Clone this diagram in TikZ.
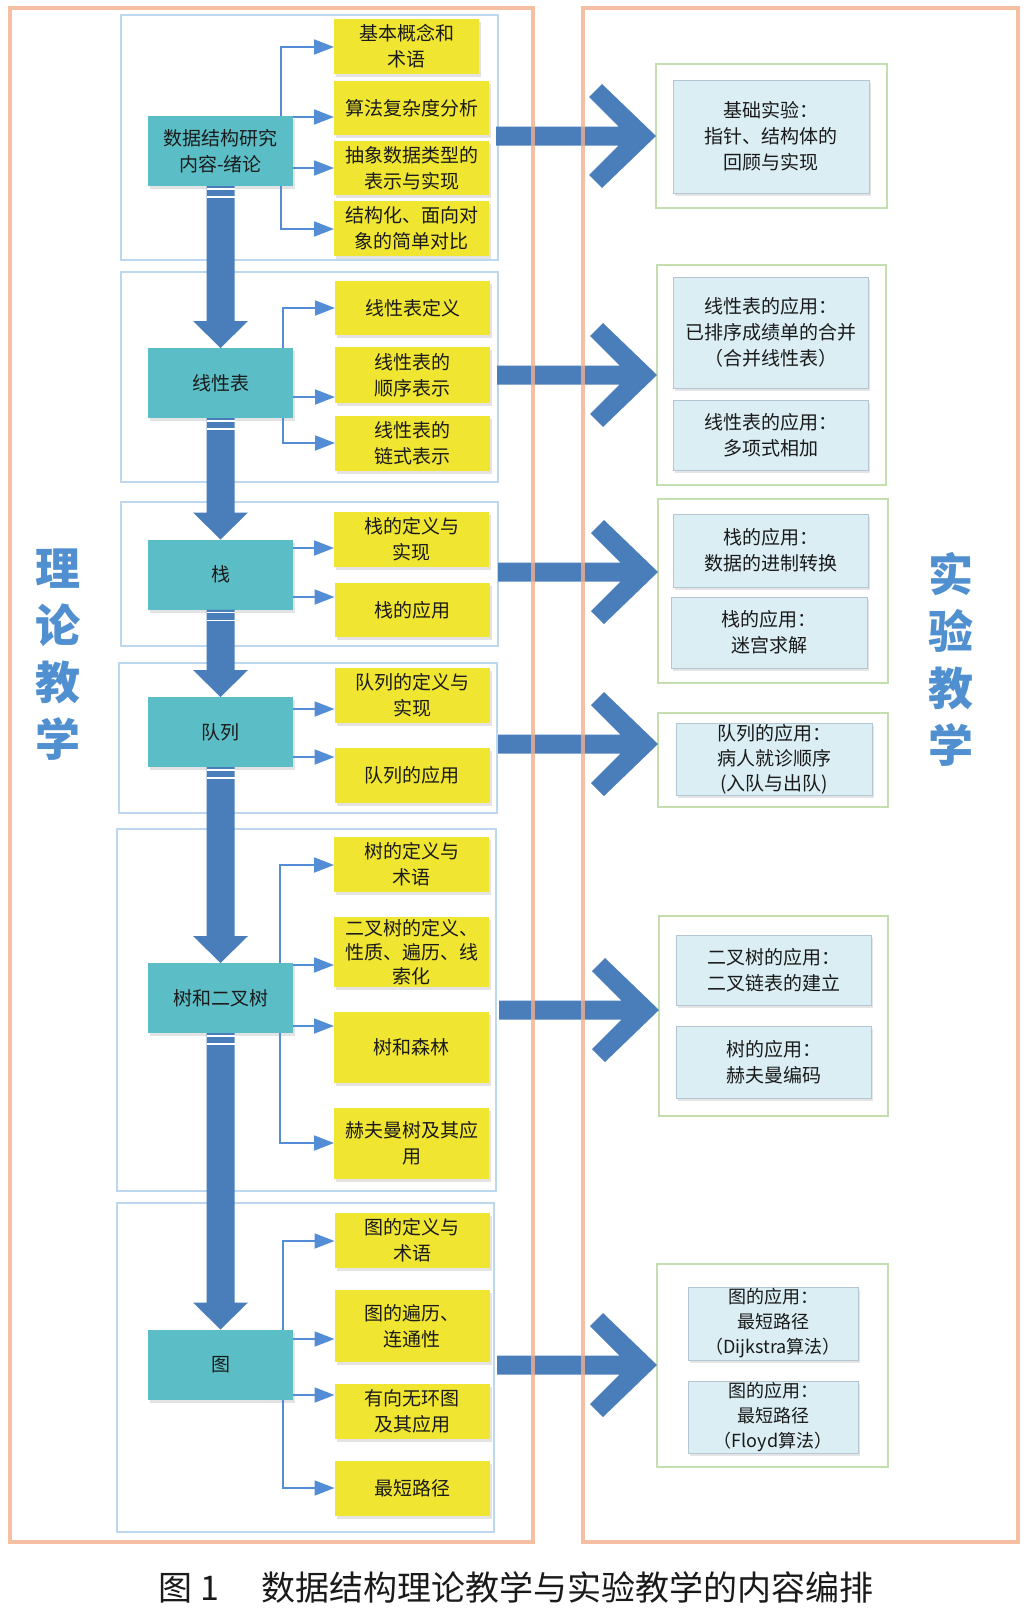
\documentclass[tikz,border=0pt]{standalone}
\usepackage{fontspec}
\setmainfont{Noto Sans CJK SC}
\usetikzlibrary{arrows.meta,shadows,calc}
\definecolor{cOrg}{HTML}{F4AE8C}
\definecolor{cSec}{HTML}{BDD7EE}
\definecolor{cTeal}{HTML}{5BBEC6}
\definecolor{cYel}{HTML}{F0E632}
\definecolor{cArr}{HTML}{4A7EBB}
\definecolor{cBr}{HTML}{538DD5}
\definecolor{cGrn}{HTML}{C4DEB0}
\definecolor{cLb}{HTML}{DAEEF3}
\definecolor{cLbd}{HTML}{B4C6D4}
\definecolor{cSide}{HTML}{5090D0}
\definecolor{cTxt}{HTML}{1A1A1A}
\newcommand{\dnarrow}[2]{%
  \fill[cArr] ($(#1.south)+(-14,0)$) -- ($(#2.north)+(-14,-27)$) -- ($(#2.north)+(-27.5,-27)$) -- (#2.north) -- ($(#2.north)+(27.5,-27)$) -- ($(#2.north)+(14,-27)$) -- ($(#1.south)+(14,0)$) -- cycle;
  \draw[white, line width=1.2pt] ($(#1.south)+(-14,3)$) -- ++(28,0) ($(#1.south)+(-14,11)$) -- ++(28,0);}
\begin{document}
\begin{tikzpicture}[x=1pt,y=-1pt,
  every node/.style={inner sep=0pt, outer sep=0pt},
  txt/.style={font=\fontsize{19pt}{26pt}\selectfont, align=center, text=cTxt},
  sec/.style={draw=cSec, line width=2pt, rectangle},
  topic/.style={txt, rectangle, fill=cTeal, minimum width=145pt, minimum height=70pt,
    drop shadow={shadow xshift=2pt, shadow yshift=-3pt, opacity=0.22, fill=gray}},
  sub/.style={txt, rectangle, fill=cYel, minimum width=155pt,
    drop shadow={shadow xshift=2pt, shadow yshift=-3pt, opacity=0.22, fill=gray}},
  grp/.style={draw=cGrn, line width=2.2pt, rectangle},
  app/.style={txt, rectangle, fill=cLb, draw=cLbd, line width=1pt,
    drop shadow={shadow xshift=1.5pt, shadow yshift=-2.5pt, opacity=0.2, fill=gray}},
  br/.style={draw=cBr, line width=1.8pt, -{Triangle[length=20pt,width=15pt]}},
  side/.style={font=\bfseries\fontsize{45pt}{57pt}\selectfont, align=center, text=cSide},
  fatarrow/.pic={\fill[cArr] (-160,-9.5) -- (-37.5,-9.5) -- (-67,-39) -- (-54,-52) -- (0,0) -- (-54,52) -- (-67,39) -- (-37.5,9.5) -- (-160,9.5) -- cycle;}
]
\useasboundingbox (0,0) rectangle (1034,1609);
\fill[white] (0,0) rectangle (1034,1609);

% section frames
\node[sec, minimum width=377pt, minimum height=245pt] (S1) at (309.5,137.5) {};
\node[sec, minimum width=377pt, minimum height=210pt] (S2) at (309.5,377) {};
\node[sec, minimum width=377pt, minimum height=144pt] (S3) at (309.5,574) {};
\node[sec, minimum width=378pt, minimum height=150pt] (S4) at (308,738) {};
\node[sec, minimum width=379pt, minimum height=362pt] (S5) at (306.5,1010) {};
\node[sec, minimum width=377pt, minimum height=329pt] (S6) at (305.5,1367.5) {};

% topic boxes
\node[topic] (T1) at (220.5,151) {数据结构研究\\内容-绪论};
\node[topic] (T2) at (220.5,383) {线性表};
\node[topic] (T3) at (220.5,574.5) {栈};
\node[topic] (T4) at (220.5,732) {队列};
\node[topic] (T5) at (220.5,998) {树和二叉树};
\node[topic] (T6) at (220.5,1364.5) {图};

% sub-topic boxes
\node[sub, minimum width=145pt, minimum height=55pt] (Y1a) at (406.5,46.5) {基本概念和\\术语};
\node[sub, minimum height=54pt] (Y1b) at (411.5,108) {算法复杂度分析};
\node[sub, minimum height=54pt] (Y1c) at (411.5,168) {抽象数据类型的\\表示与实现};
\node[sub, minimum height=55pt] (Y1d) at (411.5,228.5) {结构化、面向对\\象的简单对比};
\node[sub, minimum height=54pt] (Y2a) at (412.5,308) {线性表定义};
\node[sub, minimum height=56pt] (Y2b) at (412.5,375) {线性表的\\顺序表示};
\node[sub, minimum height=55pt] (Y2c) at (412.5,443.5) {线性表的\\链式表示};
\node[sub, minimum height=55pt] (Y3a) at (411.5,539.5) {栈的定义与\\实现};
\node[sub, minimum height=54pt] (Y3b) at (412,610) {栈的应用};
\node[sub, minimum height=55pt] (Y4a) at (412,695.5) {队列的定义与\\实现};
\node[sub, minimum height=55pt] (Y4b) at (412,775.5) {队列的应用};
\node[sub, minimum height=55pt] (Y5a) at (411.5,864.5) {树的定义与\\术语};
\node[sub, minimum height=70pt, font=\fontsize{19pt}{24pt}\selectfont] (Y5b) at (411.5,952) {二叉树的定义、\\性质、遍历、线\\索化};
\node[sub, minimum height=71pt] (Y5c) at (411.5,1047.5) {树和森林};
\node[sub, minimum height=71pt] (Y5d) at (411.5,1143.5) {赫夫曼树及其应\\用};
\node[sub, minimum height=55pt] (Y6a) at (412,1240.5) {图的定义与\\术语};
\node[sub, minimum height=72pt] (Y6b) at (412,1326) {图的遍历、\\连通性};
\node[sub, minimum height=55pt] (Y6c) at (412,1411.5) {有向无环图\\及其应用};
\node[sub, minimum height=55pt] (Y6d) at (412,1488.5) {最短路径};

% branch x positions
\coordinate (b1) at (281,0);
\coordinate (b2) at (283,0);
\coordinate (b5) at (280,0);
\coordinate (b6) at (283,0);

% branch connectors
\draw[br] (T1.north -| b1) |- (Y1a.west |- 0,47);
\draw[br] (T1.east |- 0,117) -- (Y1b.west |- 0,117);
\draw[br] (T1.east |- 0,168) -- (Y1c.west |- 0,168);
\draw[br] (T1.south -| b1) |- (Y1d.west |- 0,229);
\draw[br] (T2.north -| b2) |- (Y2a.west |- 0,308);
\draw[br] (T2.east |- 0,397) -- (Y2b.west |- 0,397);
\draw[br] (T2.south -| b2) |- (Y2c.west |- 0,443);
\draw[br] (T3.east |- 0,548) -- (Y3a.west |- 0,548);
\draw[br] (T3.east |- 0,597) -- (Y3b.west |- 0,597);
\draw[br] (T4.east |- 0,709) -- (Y4a.west |- 0,709);
\draw[br] (T4.east |- 0,757) -- (Y4b.west |- 0,757);
\draw[br] (T5.north -| b5) |- (Y5a.west |- 0,865);
\draw[br] (T5.east |- 0,965) -- (Y5b.west |- 0,965);
\draw[br] (T5.east |- 0,1026) -- (Y5c.west |- 0,1026);
\draw[br] (T5.south -| b5) |- (Y5d.west |- 0,1143);
\draw[br] (T6.north -| b6) |- (Y6a.west |- 0,1241);
\draw[br] (T6.east |- 0,1339) -- (Y6b.west |- 0,1339);
\draw[br] (T6.east |- 0,1395) -- (Y6c.west |- 0,1395);
\draw[br] (T6.south -| b6) |- (Y6d.west |- 0,1488);

% down arrows
\dnarrow{T1}{T2}
\dnarrow{T2}{T3}
\dnarrow{T3}{T4}
\dnarrow{T4}{T5}
\dnarrow{T5}{T6}

% experiment groups
\node[grp, minimum width=231pt, minimum height=144pt] (G1) at (771.5,136) {};
\node[grp, minimum width=229pt, minimum height=220pt] (G2) at (771.5,375) {};
\node[grp, minimum width=230pt, minimum height=184pt] (G3) at (773,591) {};
\node[grp, minimum width=230pt, minimum height=94pt] (G4) at (773,760) {};
\node[grp, minimum width=229pt, minimum height=200pt] (G5) at (773.5,1016) {};
\node[grp, minimum width=231pt, minimum height=203pt] (G6) at (772.5,1365.5) {};

\node[app, minimum width=196pt, minimum height=113pt] (L1) at (771,136.5) {基础实验：\\指针、结构体的\\回顾与实现};
\node[app, minimum width=195pt, minimum height=111pt] (L2a) at (770.5,332.5) {线性表的应用：\\已排序成绩单的合并\\（合并线性表）};
\node[app, minimum width=195pt, minimum height=70pt] (L2b) at (770.5,435) {线性表的应用：\\多项式相加};
\node[app, minimum width=195pt, minimum height=73pt] (L3a) at (770.5,550.5) {栈的应用：\\数据的进制转换};
\node[app, minimum width=196pt, minimum height=71pt] (L3b) at (769,632.5) {栈的应用：\\迷宫求解};
\node[app, minimum width=196pt, minimum height=72pt, font=\fontsize{19pt}{25pt}\selectfont] (L4) at (774,759) {队列的应用：\\病人就诊顺序\\(入队与出队)};
\node[app, minimum width=195pt, minimum height=70pt] (L5a) at (773.5,970) {二叉树的应用：\\二叉链表的建立};
\node[app, minimum width=195pt, minimum height=72pt] (L5b) at (773.5,1062) {树的应用：\\赫夫曼编码};
\node[app, minimum width=170pt, minimum height=73pt, font=\fontsize{18pt}{25pt}\selectfont] (L6a) at (773,1323.5) {图的应用：\\最短路径\\（Dijkstra算法）};
\node[app, minimum width=170pt, minimum height=72pt, font=\fontsize{18pt}{25pt}\selectfont] (L6b) at (773,1417) {图的应用：\\最短路径\\（Floyd算法）};

% big arrows from theory to experiments
\coordinate (tip1) at (G1.west |- 0,136);
\coordinate (tip2) at (G2.west |- 0,375);
\coordinate (tip3) at (G3.west |- 0,572);
\coordinate (tip4) at (G4.west |- 0,744);
\coordinate (tip5) at (G5.west |- 0,1010);
\coordinate (tip6) at (G6.west |- 0,1365);
\pic at (tip1) {fatarrow};
\pic at (tip2) {fatarrow};
\pic at (tip3) {fatarrow};
\pic at (tip4) {fatarrow};
\pic at (tip5) {fatarrow};
\pic at (tip6) {fatarrow};

% outer frames
\draw[cOrg, line width=3.5pt, draw opacity=0.8] (10,8) rectangle (533,1542);
\draw[cOrg, line width=3.5pt, draw opacity=0.8] (583,8) rectangle (1018,1542);

% side titles
\node[side] (left) at (58,655) {理\\论\\教\\学};
\node[side] (right) at (951,659) {实\\验\\教\\学};

% caption
\node[font=\fontsize{34pt}{34pt}\selectfont, text=cTxt] (cap) at (516,1587) {图 1\quad\ 数据结构理论教学与实验教学的内容编排};
\end{tikzpicture}
\end{document}
